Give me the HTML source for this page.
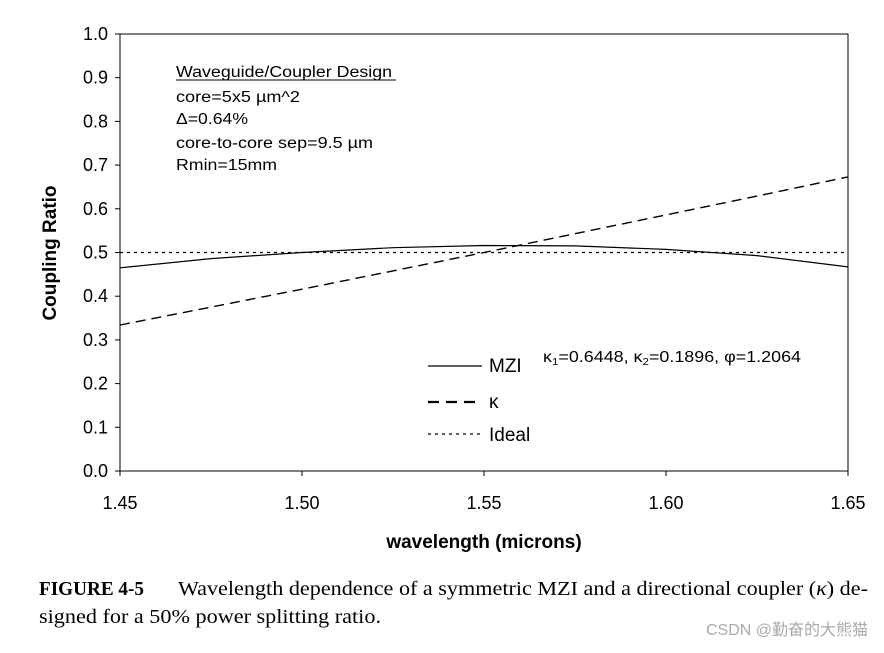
<!DOCTYPE html>
<html><head><meta charset="utf-8"><style>
body{margin:0;background:#fff;width:884px;height:648px;overflow:hidden;font-family:"Liberation Sans",sans-serif}
</style></head><body>
<svg id="chart" width="884" height="648" xmlns="http://www.w3.org/2000/svg">
<g id="axes"></g>
<g id="series"></g>
<text transform="translate(56,253) rotate(-90)" text-anchor="middle" font-size="19" font-weight="bold">Coupling Ratio</text>
<text x="484" y="548" text-anchor="middle" font-size="19" font-weight="bold">wavelength (microns)</text>
<g font-size="15.5">
<text x="176" y="77" textLength="216" lengthAdjust="spacingAndGlyphs">Waveguide/Coupler Design</text>
<line x1="176" y1="80" x2="396" y2="80" stroke="#000" stroke-width="1"/>
<text x="176" y="102" textLength="124" lengthAdjust="spacingAndGlyphs">core=5x5  µm^2</text>
<text x="176" y="124" textLength="72" lengthAdjust="spacingAndGlyphs">Δ=0.64%</text>
<text x="176" y="148" textLength="197" lengthAdjust="spacingAndGlyphs">core-to-core sep=9.5  µm</text>
<text x="176" y="170" textLength="101" lengthAdjust="spacingAndGlyphs">Rmin=15mm</text>
</g>
<g>
<g><line x1="428" y1="366" x2="482" y2="366" stroke="#000" stroke-width="1.2"/><text x="489" y="372" font-size="19">MZI</text></g>
<text x="543" y="362" font-size="15.5" textLength="258" lengthAdjust="spacingAndGlyphs">κ<tspan font-size="10" dy="3">1</tspan><tspan dy="-3">=0.6448,  κ</tspan><tspan font-size="10" dy="3">2</tspan><tspan dy="-3">=0.1896,  φ=1.2064</tspan></text>
<g><line x1="428" y1="402" x2="482" y2="402" stroke="#000" stroke-width="2.2" stroke-dasharray="11,7"/><text x="489" y="408" font-size="19">κ</text></g>
<g><line x1="428" y1="434" x2="482" y2="434" stroke="#000" stroke-width="1.2" stroke-dasharray="3,4"/><text x="489" y="441" font-size="19">Ideal</text></g>
</g>
<g font-family="'Liberation Serif',serif" font-size="20">
<text x="39" y="595" font-weight="bold" textLength="105" lengthAdjust="spacingAndGlyphs">FIGURE 4-5</text>
<text x="178" y="595" textLength="690" lengthAdjust="spacingAndGlyphs">Wavelength dependence of a symmetric MZI and a directional coupler (<tspan font-style="italic">κ</tspan>) de-</text>
<text x="39" y="623" textLength="342" lengthAdjust="spacingAndGlyphs">signed for a 50% power splitting ratio.</text>
</g>
<text x="868" y="635" text-anchor="end" font-size="16" fill="#aaa" font-family="'Liberation Sans','Noto Sans CJK SC',sans-serif">CSDN @勤奋的大熊猫</text>
</svg>
<script>
const xTicks=[1.45,1.50,1.55,1.60,1.65];
const xTickLabels=["1.45","1.50","1.55","1.60","1.65"];
const yTicks=[0,0.1,0.2,0.3,0.4,0.5,0.6,0.7,0.8,0.9,1.0];
const yTickLabels=["0.0","0.1","0.2","0.3","0.4","0.5","0.6","0.7","0.8","0.9","1.0"];
const wavelengths=[1.45,1.475,1.50,1.525,1.55,1.575,1.60,1.625,1.65];
const mziValues=[0.465,0.486,0.500,0.511,0.516,0.515,0.507,0.493,0.467];
const kappaValues=[0.334,0.375,0.416,0.458,0.500,0.543,0.586,0.629,0.673];
const idealValues=[0.5,0.5,0.5,0.5,0.5,0.5,0.5,0.5,0.5];
const X0=120,X1=848,Y0=471,Y1=34;
const sx=v=>X0+(v-1.45)/(0.2)*(X1-X0);
const sy=v=>Y0-v*(Y0-Y1);
const NS="http://www.w3.org/2000/svg";
const axes=document.getElementById('axes'),ser=document.getElementById('series');
function mk(t,a,p){const e=document.createElementNS(NS,t);for(const k in a)e.setAttribute(k,a[k]);p.appendChild(e);return e;}
const frame=mk('rect',{x:X0,y:Y1,width:X1-X0,height:Y0-Y1,fill:'none',stroke:'#000','stroke-width':1},axes);


yTicks.forEach((v,i)=>{
 const t=mk('line',{x1:X0-5,x2:X0,y1:sy(v),y2:sy(v),stroke:'#000'},axes);
 
 
 const l=mk('text',{x:X0-12,y:sy(v)+6,'text-anchor':'end','font-size':18},axes);
 l.textContent=yTickLabels[i];
 
 
});
xTicks.forEach((v,i)=>{
 const t=mk('line',{x1:sx(v),x2:sx(v),y1:Y0,y2:Y0+5,stroke:'#000'},axes);
 
 
 const l=mk('text',{x:sx(v),y:Y0+38,'text-anchor':'middle','font-size':18},axes);
 l.textContent=xTickLabels[i];
 
 
});
function line(vals,dash,w,name){
 const d=wavelengths.map((x,i)=>(i?'L':'M')+sx(x).toFixed(1)+','+sy(vals[i]).toFixed(1)).join(' ');
 const p=mk('path',{d:d,fill:'none',stroke:'#000','stroke-width':w,'stroke-dasharray':dash},ser);
 
 
}
line(idealValues,'3,4',1.2,'ideal-line');
line(mziValues,'none',1.2,'mzi-line');
line(kappaValues,'10,6',1.4,'kappa-line');
</script>
</body></html>
